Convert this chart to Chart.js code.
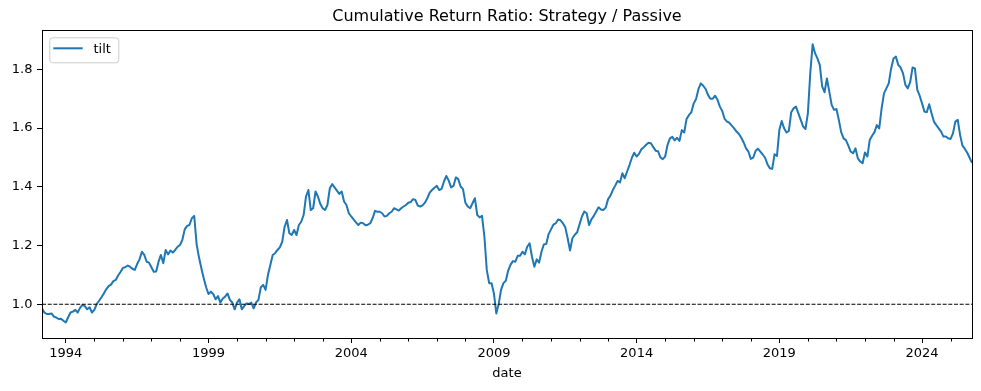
<!DOCTYPE html>
<html>
<head>
<meta charset="utf-8">
<script src="https://cdn.jsdelivr.net/npm/chart.js@4"></script>
<style>
  html, body { margin: 0; padding: 0; background: #fff; }
  #wrap { width: 981px; height: 391px; }
</style>
</head>
<body>
<div id="wrap"><canvas id="ratioChart" width="981" height="391"></canvas></div>
<script>
// monthly values, first point is Mar 1993
const startYear = 1993;
const startMonth = 3;
const seriesName = 'tilt';
const tilt = [
    0.986, 0.972, 0.967, 0.967, 0.969, 0.958, 0.955, 0.950, 0.951, 0.944,
    0.938, 0.956, 0.972, 0.975, 0.981, 0.972, 0.988, 0.998, 0.994, 0.983, 0.990, 0.972,
    0.981, 1.001, 1.012, 1.024, 1.037, 1.051, 1.062, 1.067, 1.079, 1.083, 1.098, 1.110,
    1.124, 1.126, 1.132, 1.128, 1.121, 1.117, 1.137, 1.153, 1.179, 1.168, 1.145, 1.142,
    1.126, 1.111, 1.112, 1.145, 1.168, 1.140, 1.185, 1.170, 1.183, 1.176, 1.185, 1.196,
    1.202, 1.219, 1.255, 1.267, 1.270, 1.293, 1.301, 1.205, 1.160, 1.123, 1.089, 1.058,
    1.035, 1.043, 1.035, 1.017, 1.028, 1.006, 1.020, 1.026, 1.037, 1.015, 1.006, 0.983,
    1.006, 1.017, 0.983, 0.994, 1.003, 1.001, 1.006, 0.986, 1.006, 1.015, 1.058, 1.066,
    1.049, 1.100, 1.134, 1.168, 1.174, 1.185, 1.194, 1.213, 1.264, 1.287, 1.242, 1.236,
    1.253, 1.236, 1.270, 1.281, 1.304, 1.367, 1.389, 1.321, 1.327, 1.384, 1.367, 1.342,
    1.327, 1.321, 1.338, 1.395, 1.409, 1.398, 1.387, 1.376, 1.384, 1.350, 1.338, 1.310,
    1.299, 1.289, 1.279, 1.270, 1.278, 1.276, 1.269, 1.271, 1.276, 1.293, 1.318, 1.315,
    1.315, 1.310, 1.299, 1.301, 1.310, 1.315, 1.327, 1.323, 1.319, 1.327, 1.333, 1.338,
    1.346, 1.348, 1.358, 1.355, 1.336, 1.333, 1.337, 1.346, 1.361, 1.380, 1.389, 1.397,
    1.403, 1.389, 1.393, 1.418, 1.437, 1.421, 1.398, 1.403, 1.432, 1.426, 1.401, 1.392,
    1.346, 1.333, 1.327, 1.344, 1.361, 1.304, 1.296, 1.301, 1.230, 1.117, 1.072, 1.072,
    1.037, 0.969, 1.001, 1.049, 1.072, 1.080, 1.115, 1.135, 1.147, 1.145, 1.165, 1.165,
    1.179, 1.170, 1.196, 1.208, 1.162, 1.128, 1.153, 1.142, 1.179, 1.204, 1.205, 1.239,
    1.255, 1.271, 1.276, 1.289, 1.286, 1.276, 1.262, 1.225, 1.183, 1.225, 1.237, 1.245,
    1.272, 1.299, 1.316, 1.310, 1.270, 1.289, 1.301, 1.316, 1.330, 1.323, 1.321, 1.329,
    1.358, 1.370, 1.389, 1.404, 1.420, 1.415, 1.446, 1.429, 1.452, 1.474, 1.499, 1.516,
    1.503, 1.512, 1.528, 1.535, 1.543, 1.550, 1.548, 1.535, 1.523, 1.521, 1.500, 1.494,
    1.503, 1.543, 1.565, 1.570, 1.558, 1.567, 1.556, 1.593, 1.585, 1.631, 1.644, 1.654,
    1.684, 1.699, 1.733, 1.752, 1.744, 1.733, 1.713, 1.700, 1.700, 1.710, 1.696, 1.673,
    1.658, 1.631, 1.622, 1.618, 1.608, 1.599, 1.588, 1.580, 1.567, 1.551, 1.531, 1.520,
    1.495, 1.499, 1.522, 1.530, 1.520, 1.510, 1.499, 1.477, 1.463, 1.461, 1.511, 1.505,
    1.593, 1.624, 1.599, 1.585, 1.590, 1.654, 1.667, 1.673, 1.650, 1.628, 1.605, 1.597,
    1.650, 1.786, 1.885, 1.855, 1.837, 1.815, 1.742, 1.722, 1.769, 1.724, 1.679, 1.662,
    1.665, 1.628, 1.586, 1.565, 1.559, 1.540, 1.520, 1.514, 1.531, 1.497, 1.486, 1.480,
    1.517, 1.503, 1.559, 1.574, 1.586, 1.610, 1.599, 1.667, 1.718, 1.735, 1.752, 1.803,
    1.837, 1.843, 1.815, 1.806, 1.786, 1.747, 1.735, 1.756, 1.806, 1.803, 1.730, 1.710,
    1.684, 1.656, 1.654, 1.681, 1.650, 1.622, 1.610, 1.599, 1.588, 1.571, 1.571, 1.565,
    1.563, 1.582, 1.622, 1.628, 1.576, 1.540, 1.529, 1.516, 1.499, 1.482
];
const baselineLevel = 1.0;
const majorYears = [1994, 1999, 2004, 2009, 2014, 2019, 2024];
const yTicks = [1.0, 1.2, 1.4, 1.6, 1.8];
const chartTitle = 'Cumulative Return Ratio: Strategy / Passive';
const xTitle = 'date';

const t0 = startYear + (startMonth - 1) / 12;
const t1 = t0 + (tilt.length - 1) / 12;
const tiltPoints = tilt.map((v, i) => ({ x: t0 + i / 12, y: v }));

Chart.defaults.font.family = "'DejaVu Sans', sans-serif";
Chart.defaults.font.size = 13;
Chart.defaults.color = '#000';

// spines on top + yearly minor ticks + legend box inside the plot
const framePlugin = {
    id: 'frame',
    afterDatasetsDraw(chart) {
        const ctx = chart.ctx;
        const a = chart.chartArea;
        const l = Math.floor(a.left) + 0.5, r = Math.floor(a.right) + 0.5;
        const t = Math.floor(a.top) + 0.5, b = Math.floor(a.bottom) + 0.5;
        ctx.save();
        ctx.strokeStyle = '#000';
        ctx.lineWidth = 1;
        ctx.strokeRect(l, t, r - l, b - t);

        const xs = chart.scales.x;
        ctx.beginPath();
        for (let yr = Math.ceil(t0); yr <= Math.floor(t1); yr++) {
            if (majorYears.includes(yr)) continue;
            const px = Math.round(xs.getPixelForValue(yr)) + 0.5;
            ctx.moveTo(px, b);
            ctx.lineTo(px, b + 3);
        }
        ctx.stroke();

        // legend
        const lx = a.left + 7.3, ly = a.top + 6.6;
        ctx.beginPath();
        ctx.roundRect(lx + 0.5, ly + 0.5, 69, 25, 3);
        ctx.fillStyle = 'rgba(255,255,255,0.8)';
        ctx.fill();
        ctx.strokeStyle = '#cccccc';
        ctx.stroke();
        const ds = chart.data.datasets[0];
        ctx.beginPath();
        ctx.strokeStyle = ds.borderColor;
        ctx.lineWidth = ds.borderWidth;
        ctx.moveTo(lx + 4, ly + 11);
        ctx.lineTo(lx + 33.4, ly + 11);
        ctx.stroke();
        ctx.fillStyle = '#000';
        ctx.font = "13px 'DejaVu Sans', sans-serif";
        ctx.textBaseline = 'alphabetic';
        ctx.textAlign = 'left';
        ctx.fillText(ds.label, lx + 44.2, ly + 16);
        ctx.restore();
    }
};

new Chart(document.getElementById('ratioChart').getContext('2d'), {
    type: 'line',
    data: {
        datasets: [
            {
                label: seriesName,
                data: tiltPoints,
                borderColor: '#1f77b4',
                borderWidth: 2,
                pointRadius: 0,
                tension: 0,
                borderJoinStyle: 'round',
                order: 1
            },
            {
                label: 'baseline',
                data: [{ x: t0, y: baselineLevel }, { x: t1, y: baselineLevel }],
                borderColor: '#000',
                borderWidth: 1.1,
                borderDash: [4, 1.7],
                pointRadius: 0,
                order: 0
            }
        ]
    },
    options: {
        responsive: false,
        animation: false,
        events: [],
        layout: { padding: { left: 0, right: 9, top: 0, bottom: 0 } },
        plugins: {
            legend: { display: false },
            tooltip: { enabled: false },
            title: {
                display: true,
                text: chartTitle,
                fullSize: false,
                color: '#000',
                font: { size: 16, weight: 'normal' },
                padding: { top: 7.6, bottom: 3.9 }
            }
        },
        scales: {
            x: {
                type: 'linear',
                min: t0,
                max: t1,
                afterBuildTicks: s => { s.ticks = majorYears.map(v => ({ value: v })); },
                afterFit: s => { s.height = 53; },
                ticks: {
                    callback: v => String(v),
                    autoSkip: false,
                    maxRotation: 0,
                    padding: 3,
                    color: '#000'
                },
                grid: { drawOnChartArea: false, tickLength: 5, tickColor: '#000', tickWidth: 1 },
                border: { color: '#000', width: 1 },
                title: { display: true, text: xTitle, color: '#000', font: { size: 13 }, padding: { top: 0, bottom: 9.4 } }
            },
            y: {
                type: 'linear',
                min: 0.8853,
                max: 1.9314,
                afterBuildTicks: s => { s.ticks = yTicks.map(v => ({ value: v })); },
                afterFit: s => { s.width = 42; },
                ticks: {
                    callback: v => v.toFixed(1),
                    autoSkip: false,
                    padding: 4.5,
                    color: '#000'
                },
                grid: { drawOnChartArea: false, tickLength: 5, tickColor: '#000', tickWidth: 1 },
                border: { color: '#000', width: 1 }
            }
        }
    },
    plugins: [framePlugin]
});
</script>
</body>
</html>
